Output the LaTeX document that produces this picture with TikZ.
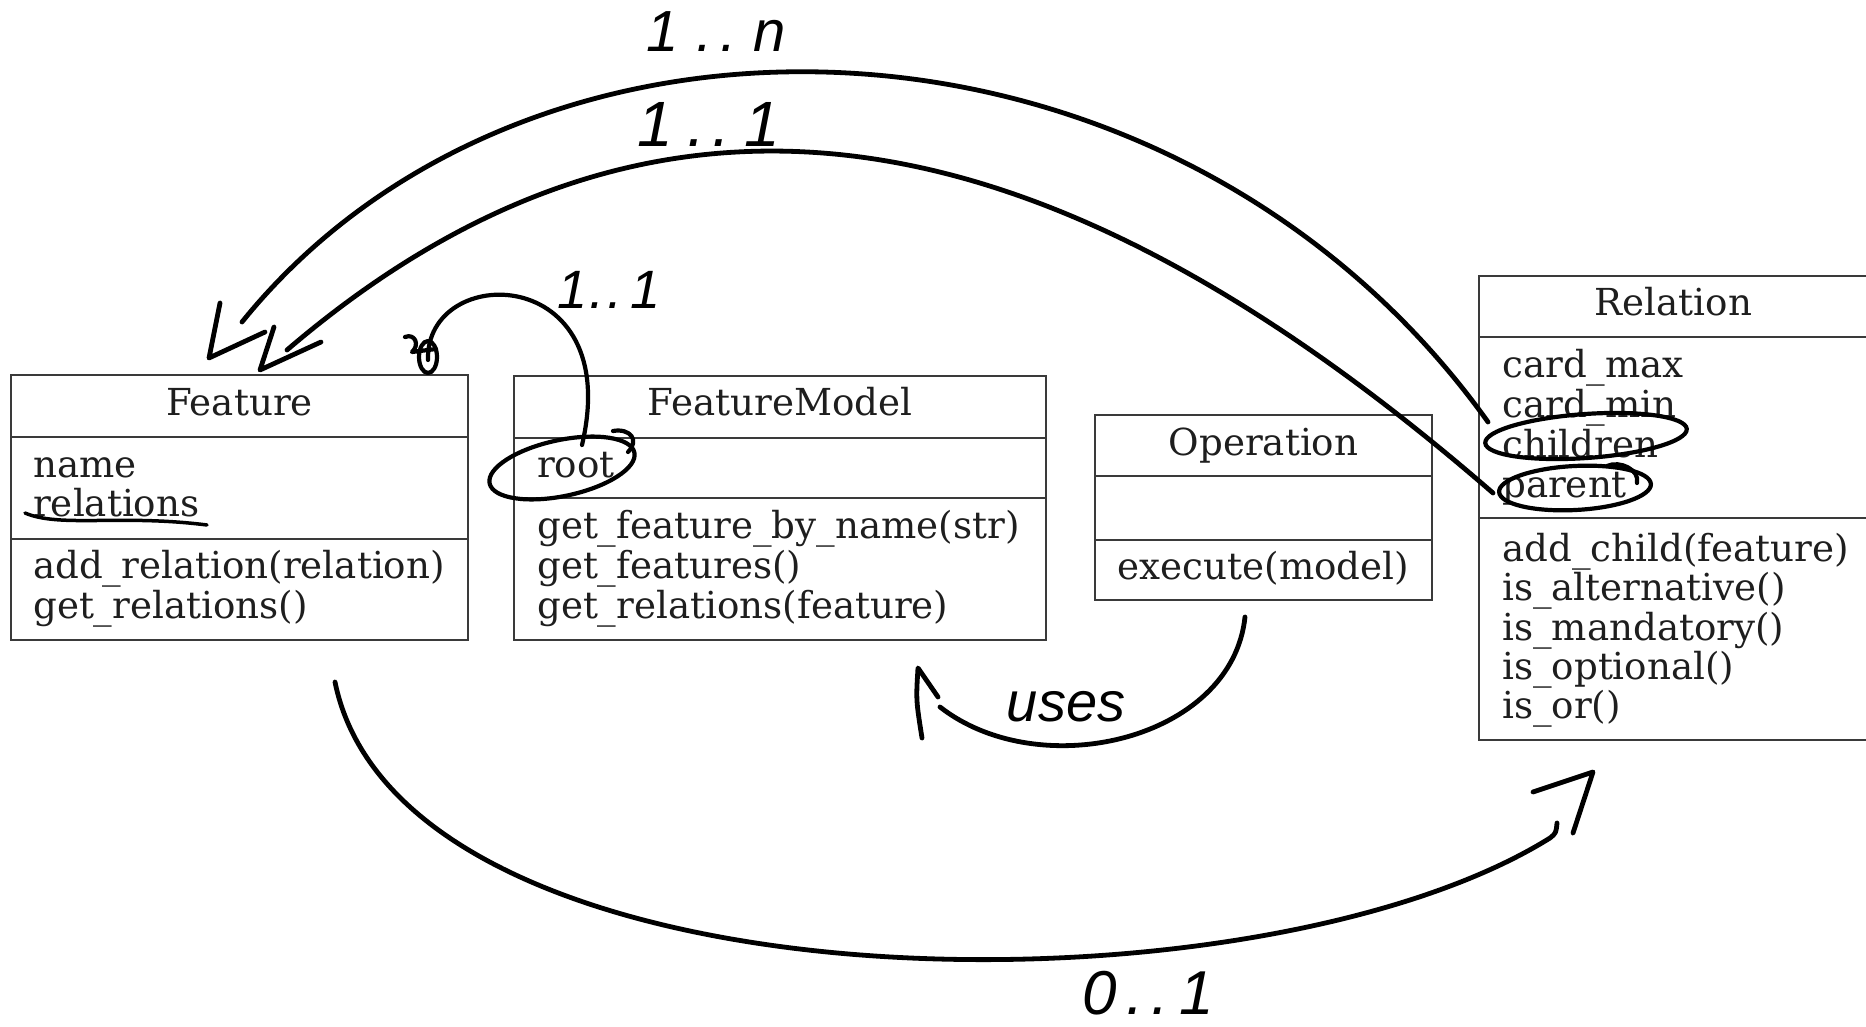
\documentclass[tikz,border=0pt]{standalone}
\usepackage{fontspec}
\newfontfamily\umlfont{DejaVu Serif}
\newfontfamily\handfont{Liberation Sans}
\usetikzlibrary{shapes.geometric}
\definecolor{boxc}{HTML}{3A3A3A}
\definecolor{txtc}{HTML}{1E1E1E}
\begin{document}
\begin{tikzpicture}[x=1pt,y=-1pt,
  comp/.style={draw=boxc, line width=2.5pt, inner sep=0pt, outer sep=0pt, anchor=north west},
  txt/.style={inner sep=0pt, anchor=base west, text=txtc, font=\umlfont\fontsize{37.2}{40}\selectfont},
  ttl/.style={txt, anchor=base},
  hand/.style={line width=4.8pt, line cap=round, line join=round},
  loopmark/.style={draw, ellipse, line width=4.2pt, inner sep=0pt, outer sep=0pt},
  hlabel/.style={inner sep=0pt, font=\handfont\itshape\fontsize{58}{58}\selectfont}
]
\useasboundingbox (0,0) rectangle (1866,1027);

% ---------- Feature ----------
\node[comp, minimum width=457pt, minimum height=62pt]  (featT) at (11,375) {};
\node[comp, minimum width=457pt, minimum height=102pt] (featA) at (11,437) {};
\node[comp, minimum width=457pt, minimum height=101pt] (featM) at (11,539) {};
\node[ttl] (featTitle) at (239.5,415) {Feature};
\node[txt] (fa1) at (33,477) {name};
\node[txt] (fa2) at (33,516) {relations};
\node[txt] (fm1) at (33,578) {add\_relation(relation)};
\node[txt] (fm2) at (33,618) {get\_relations()};

% ---------- FeatureModel ----------
\node[comp, minimum width=532pt, minimum height=62pt]  (fmT) at (514,376) {};
\node[comp, minimum width=532pt, minimum height=60pt]  (fmA) at (514,438) {};
\node[comp, minimum width=532pt, minimum height=142pt] (fmM) at (514,498) {};
\node[ttl] (fmTitle) at (780,415) {FeatureModel};
\node[txt] (fma1) at (537,477) {root};
\node[txt] (fmm1) at (537,538) {get\_feature\_by\_name(str)};
\node[txt] (fmm2) at (537,578) {get\_features()};
\node[txt] (fmm3) at (537,618) {get\_relations(feature)};

% ---------- Operation ----------
\node[comp, minimum width=337pt, minimum height=61pt] (opT) at (1095,415) {};
\node[comp, minimum width=337pt, minimum height=64pt] (opA) at (1095,476) {};
\node[comp, minimum width=337pt, minimum height=60pt] (opM) at (1095,540) {};
\node[ttl] (opTitle) at (1263.5,455) {Operation};
\node[ttl] (opm1) at (1263.5,579) {execute(model)};

% ---------- Relation ----------
\node[comp, minimum width=389pt, minimum height=61pt]  (relT) at (1479,276) {};
\node[comp, minimum width=389pt, minimum height=181pt] (relA) at (1479,337) {};
\node[comp, minimum width=389pt, minimum height=222pt] (relM) at (1479,518) {};
\node[ttl] (relTitle) at (1673.5,315) {Relation};
\node[txt] (ra1) at (1502,377) {card\_max};
\node[txt] (ra2) at (1502,417) {card\_min};
\node[txt] (ra3) at (1502,457) {children};
\node[txt] (ra4) at (1502,497) {parent};
\node[txt] (rm1) at (1502,561) {add\_child(feature)};
\node[txt] (rm2) at (1502,600) {is\_alternative()};
\node[txt] (rm3) at (1502,640) {is\_mandatory()};
\node[txt] (rm4) at (1502,679) {is\_optional()};
\node[txt] (rm5) at (1502,718) {is\_or()};

% ---------- hand-drawn marks ----------
\node[loopmark, rotate=12, minimum width=148pt, minimum height=56pt] (rootE) at (562,468) {};
\node[loopmark, rotate=4, minimum width=202pt, minimum height=44pt] (childE) at (1586,436) {};
\node[loopmark, rotate=3, minimum width=152pt, minimum height=44pt] (parentE) at (1575,488) {};
\draw[hand, line width=4.2pt] (613,431) .. controls (630,428) and (640,440) .. (628,452);
\draw[hand, line width=4.2pt] (1607,466) .. controls (1620,460) and (1640,470) .. (1637,483);
\draw[hand, line width=3.5pt] (25,513) .. controls (60,528) and (120,514) .. (207,525);

% ---------- connectors ----------
\coordinate (c1s) at (1488,422);
\coordinate (c1e) at (242,322);
\coordinate (c1tip) at (209,358);
\coordinate (c1b1) at (220,303);
\coordinate (c1b2) at (265,332);
\draw[hand] (c1s) .. controls (1175,-15) and (532,-37) .. (c1e);
\draw[hand] (c1b1) -- (c1tip) -- (c1b2);

\coordinate (c2s) at (1493,493);
\coordinate (c2e) at (287,350);
\coordinate (c2tip) at (260,370);
\coordinate (c2b1) at (274,327);
\coordinate (c2b2) at (321,342);
\draw[hand] (c2s) .. controls (1070,126) and (675,18) .. (c2e);
\draw[hand] (c2b1) -- (c2tip) -- (c2b2);

\coordinate (c3s) at (582,445);
\coordinate (c3e) at (428,360);
\draw[hand, line width=4.2pt] (c3s) .. controls (625,262) and (425,262) .. (c3e);
\draw[hand, line width=4.2pt] (405,337) .. controls (415,333) and (420,345) .. (412,352) -- (436,349);
\draw[hand, line width=4.2pt] (428,357) ellipse [x radius=9pt, y radius=16pt];

\coordinate (c4s) at (1245,617);
\coordinate (c4e) at (940,707);
\coordinate (c4tip) at (918,668);
\coordinate (c4b1) at (938,697);
\coordinate (c4b2) at (922,738);
\draw[hand] (c4s) .. controls (1232,740) and (1040,785) .. (c4e);
\draw[hand] (c4b1) -- (c4tip) .. controls (916,700) .. (c4b2);

\coordinate (c5s) at (335,682);
\coordinate (c5m) at (1550,838);
\coordinate (c5e) at (1557,823);
\coordinate (c5tip) at (1593,772);
\coordinate (c5b1) at (1533,792);
\coordinate (c5b2) at (1573,833);
\draw[hand] (c5s) .. controls (403,1015) and (1252,1024) .. (c5m) .. controls (1556,833) .. (c5e);
\draw[hand] (c5b1) -- (c5tip) -- (c5b2);

% ---------- hand labels ----------
\node[hlabel] (l1n) at (716,32) {1\hspace{18pt}.\hspace{8pt}.\hspace{16pt}n};
\node[hlabel, font=\handfont\itshape\fontsize{64}{64}\selectfont] (l11a) at (709,124) {1\hspace{14pt}.\hspace{8pt}.\hspace{14pt}1};
\node[hlabel, font=\handfont\itshape\fontsize{54}{54}\selectfont] (l11b) at (609,290) {1\hspace{2pt}.\hspace{2pt}.\hspace{8pt}1};
\node[hlabel, font=\handfont\itshape\fontsize{56}{56}\selectfont] (luses) at (1066,707) {uses};
\node[hlabel, font=\handfont\itshape\fontsize{62}{62}\selectfont] (l01) at (1148,993) {0\hspace{10pt}.\hspace{8pt}.\hspace{10pt}1};
\end{tikzpicture}
\end{document}
